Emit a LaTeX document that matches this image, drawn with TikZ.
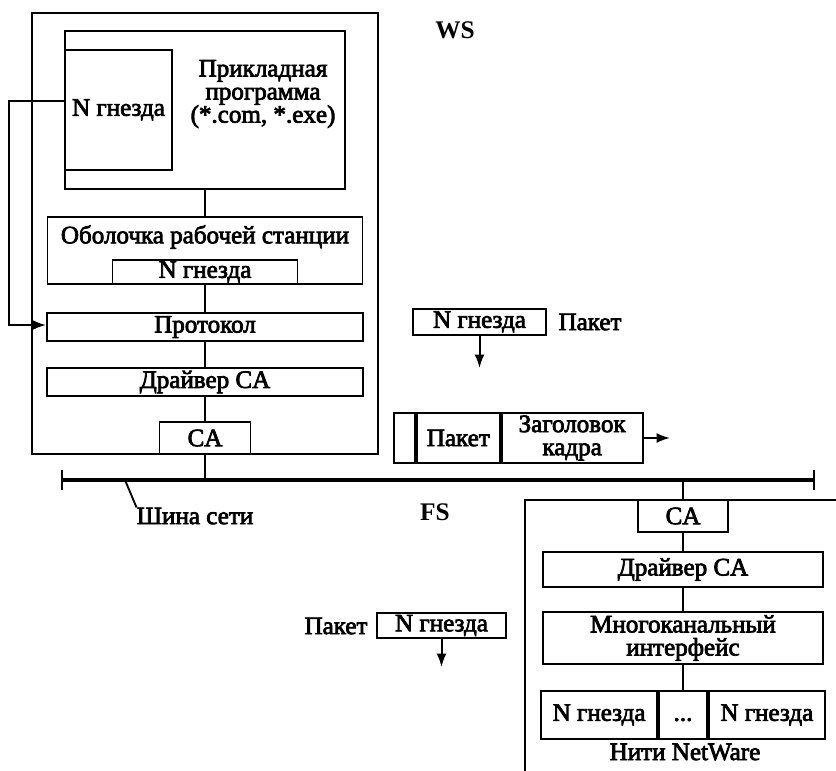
\documentclass[tikz,border=0pt]{standalone}
\usepackage{fontspec}
\setmainfont{Liberation Serif}
\usetikzlibrary{arrows.meta}
% thicker glyphs: fill and stroke the text
\newcommand\inkfont{\special{pdf:code 2 Tr 0.55 w}}

\begin{document}
\begin{tikzpicture}[x=0.75pt,y=0.75pt,yscale=-1,xscale=1,
  font=\fontsize{18.8}{17.3}\selectfont\inkfont,
  box/.style 2 args={draw, line width=1.4pt, inner sep=0pt, align=center,
    minimum width=#1*0.75pt, minimum height=#2*0.75pt},
  txt/.style={inner sep=0pt, align=center},
  link/.style={line width=1.8pt},
  bus/.style={line width=2.4pt},
  arr/.style={line width=1.5pt, -{Latex[length=10pt,width=7.5pt]}}]
\useasboundingbox (0,0) rectangle (836,771);

%Shape: WS frame
\node[box={346}{441}] (ws) at (205,233.5) {};
% Text Node
\node[txt, font=\fontsize{19}{17}\selectfont\bfseries] (wslbl) at (455,30) {WS};

%Shape: application block
\node[box={280}{158}] (app) at (205,110) {};
\node[box={107}{120}, anchor=north west] (appsock) at (app.north west |- 0,49) {N гнезда};
\node[txt] (apptxt) at (263,94) {Прикладная\\программа\\(*.com, *.exe)};

%Shape: workstation shell
\node[box={315}{67}] (shell) at (205,250.5) {};
\node[txt] (shelltxt) at (205,237) {Оболочка рабочей станции};
\node[box={185}{24}, anchor=south] (shellsock) at (shell.south) {N гнезда};

%Shape: protocol, driver, adapter
\node[box={316}{28}] (proto) at (205,327) {Протокол};
\node[box={316}{28}] (drv) at (205,382) {Драйвер CA};
\node[box={91}{32}, anchor=south] (ca) at (ws.south) {CA};

%Straight Lines
\draw[link] (app.south) -- (shell.north);
\draw[link] (shellsock.south) -- (proto.north);
\draw[link] (proto.south) -- (drv.north);
\draw[link] (drv.south) -- (ca.north);
\draw[arr] ([yshift=-6.75pt]appsock.west) -| (9,325) -- (proto.west |- 0,325);

%Shape: network bus
\coordinate (busL) at (62,480);
\coordinate (busR) at (814,480);
\draw[bus] (busL) -- (busR);
\draw[link] ([yshift=7.5pt]busL) -- ([yshift=-7.5pt]busL);
\draw[link] ([yshift=7.5pt]busR) -- ([yshift=-7.5pt]busR);
\draw[link] (ca.south) -- (ca.south |- busL);
% Text Node
\node[txt] (buslbl) at (195,516) {Шина сети};
\draw[line width=1.4pt] (125,480) -- (buslbl.north west);

%Shape: packet on the way down
\node[box={133}{26}] (pk1) at (479.5,322) {N гнезда};
\node[txt] (pk1lbl) at (590,322) {Пакет};
\coordinate (pk1end) at (479.5,368);
\draw[arr] (pk1.south) -- (pk1end);

%Shape: frame on the bus
\node[box={21}{50}, anchor=west] (fr0) at (393,438) {};
\node[box={83}{50}, anchor=west] (fr1) at (fr0.east) {Пакет};
\node[box={141}{50}, anchor=west] (fr2) at (fr1.east) {Заголовок\\кадра};
\coordinate (frend) at (670,438);
\draw[arr] (fr2.east) -- (frend);

%Shape: FS frame
\node[txt, font=\fontsize{19}{17}\selectfont\bfseries] (fslbl) at (435,512) {FS};
\draw[line width=1.4pt] (836,500) -- (525,500) -- (525,771);
\node[box={90}{32}] (fsca) at (683,516) {CA};
\node[box={280}{35}] (fsdrv) at (683,569.5) {Драйвер CA};
\node[box={280}{52}] (mux) at (683,638) {Многоканальный\\интерфейс};
\node[box={48}{48}] (thmid) at (683,715) {\vphantom{Nд}...};
\node[box={116}{48}, anchor=east] (th1) at (thmid.west) {N гнезда};
\node[box={116}{48}, anchor=west] (th2) at (thmid.east) {N гнезда};
\node[txt] (thlbl) at (685,752) {Нити NetWare};
\draw[link] (fsca.north |- busR) -- (fsca.north);
\draw[link] (fsca.south) -- (fsdrv.north);
\draw[link] (fsdrv.south) -- (mux.north);
\draw[link] (mux.south) -- (thmid.north);

%Shape: packet on the way up
\node[box={129}{25}] (pk2) at (441.5,625.5) {N гнезда};
\node[txt] (pk2lbl) at (336,626) {Пакет};
\coordinate (pk2end) at (441.5,667);
\draw[arr] (pk2.south) -- (pk2end);

\end{tikzpicture}
\end{document}
